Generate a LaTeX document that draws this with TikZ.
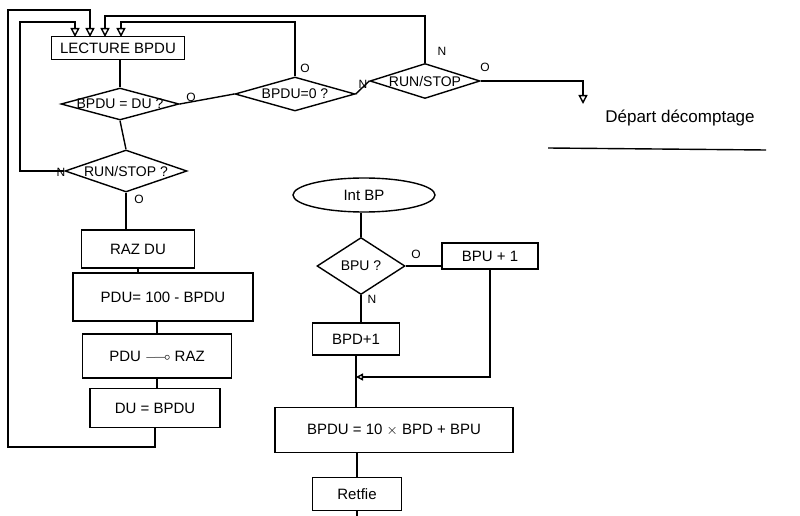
\documentclass[tikz,border=0pt]{standalone}
\usepackage{amssymb}
\usepackage{fontspec}
\setmainfont{Liberation Sans}
\usetikzlibrary{shapes.geometric,arrows.meta,calc}
\begin{document}
\begin{tikzpicture}[x=1pt,y=-1pt,line width=1.4pt,
  box/.style={draw,rectangle,inner sep=0pt,font=\fontsize{15}{17}\selectfont},
  dec/.style={draw,diamond,inner sep=0pt,aspect=3},
  dtext/.style={font=\fontsize{14}{16}\selectfont},
  tag/.style={font=\fontsize{12}{13}\selectfont},
  arr/.style={-{Triangle[open,length=9pt,width=9pt]}}]
\useasboundingbox (0,0) rectangle (800,516);
% ---- main loop
\node[box,minimum width=133,minimum height=23] (lect) at (118,48) {LECTURE BPDU};
\node[dec,minimum width=118,minimum height=32,label={[dtext]center:BPDU = DU ?}] (d1) at (120,104) {};
\node[dec,minimum width=120,minimum height=34,label={[dtext]center:BPDU=0 ?}] (d2) at (295,94) {};
\node[dec,minimum width=110,minimum height=35,label={[dtext]center:RUN/STOP}] (d3) at (425,81) {};
\node[dec,minimum width=122,minimum height=42,label={[dtext]center:RUN/STOP ?}] (d4) at (126,171) {};
\node[box,minimum width=113,minimum height=38] (raz) at (138,249) {RAZ DU};
\node[box,minimum width=180,minimum height=48] (pdu) at (163,297) {PDU= 100 - BPDU};
\node[box,minimum width=149,minimum height=44] (pra) at (157,356) {PDU $\relbar\joinrel\multimap$ RAZ};
\node[box,minimum width=130,minimum height=39] (dub) at (155,408) {DU = BPDU};
\node[font=\fontsize{17}{19}\selectfont] (dep) at (680,118) {Départ décomptage};
% entry points on top of LECTURE BPDU
\coordinate (a1) at (75,37);
\coordinate (a2) at (90,37);
\coordinate (a3) at (105,37);
\coordinate (a4) at (121,37);
\coordinate (k1) at (8,447);
\coordinate (k1t) at (8,10);
\coordinate (k2) at (20,22);
\coordinate (k3) at (105,16);
\coordinate (k4) at (121,22);
\coordinate (depin) at (583,104);
% connectors
\draw (d1.north |- lect.south) -- (d1.north);
\draw (d1.east) -- (d2.west);
\draw (d2.east) -- (d3.west);
\draw[arr] (d3.east) -| (depin);
\draw (d1.south) -- (d4.north);
\draw (d4.south) -- (d4.south |- raz.north);
\draw (raz.south) -- (raz.south |- pdu.north);
\draw (pdu.south -| pra.north) -- (pra.north);
\draw (pra.south) -- (pra.south |- dub.north);
\draw[arr] (dub.south) |- (k1) -- (k1t) -| (a2);
\draw[arr] (d4.west) -| (k2) -| (a1);
\draw[arr] (d3.north) |- (k3) -- (a3);
\draw[arr] (d2.north) |- (k4) -- (a4);
% labels
\node[tag] (t1) at (191,97) {O};
\node[tag] (t2) at (305,68) {O};
\node[tag] (t3) at (363,84) {N};
\node[tag] (t4) at (442,51) {N};
\node[tag] (t5) at (485,67) {O};
\node[tag] (t6) at (61,172) {N};
\node[tag] (t7) at (139,199) {O};
% underline
\draw (548,148) -- (766,150);
% ---- interrupt routine
\node[draw,ellipse,minimum width=142,minimum height=34,inner sep=0pt,font=\fontsize{15}{17}\selectfont] (intbp) at (364,195) {Int BP};
\node[dec,minimum width=88,minimum height=57,label={[dtext]center:BPU ?}] (d5) at (361,266) {};
\node[box,minimum width=96,minimum height=26] (bpu1) at (490,256) {BPU + 1};
\node[box,minimum width=87,minimum height=32] (bpd1) at (356,339) {BPD+1};
\node[box,minimum width=238,minimum height=45] (calc) at (394,430) {BPDU = 10 $\times$ BPD + BPU};
\node[box,minimum width=89,minimum height=33] (ret) at (357,494) {Retfie};
\coordinate (j) at (356,377);
\coordinate (rend) at (357,516);
\node[tag] (t8) at (416,254) {O};
\node[tag] (t9) at (372,299) {N};
\draw (intbp.south -| d5.north) -- (d5.north);
\draw (d5.east) -- (d5.east -| bpu1.west);
\draw (d5.south) -- (d5.south |- bpd1.north);
\draw[-{Triangle[open,length=7pt,width=7pt]}] (bpu1.south) |- (j);
\draw (bpd1.south) -- (bpd1.south |- calc.north);
\draw (ret.north |- calc.south) -- (ret.north);
\draw (ret.south) -- (rend);
\end{tikzpicture}
\end{document}
